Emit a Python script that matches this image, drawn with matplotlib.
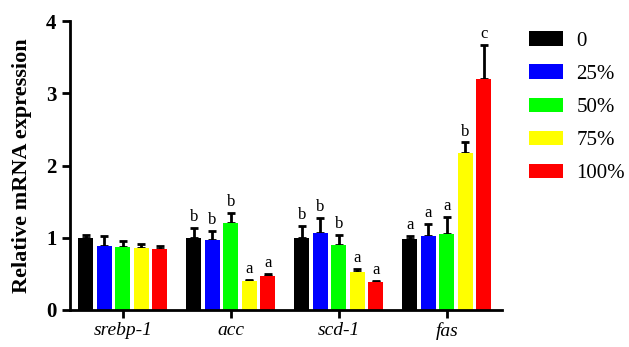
import numpy as np
import matplotlib.pyplot as plt

genes = ["srebp-1", "acc", "scd-1", "fas"]
groups = ["0", "25%", "50%", "75%", "100%"]
colors = ["#000000", "#0000ff", "#00ff00", "#ffff00", "#ff0000"]

# mean values per group (rows) for each gene (columns)
means = [
    [1.00, 1.00, 1.00, 0.98],
    [0.89, 0.97, 1.06, 1.03],
    [0.87, 1.20, 0.90, 1.05],
    [0.86, 0.40, 0.52, 2.17],
    [0.84, 0.47, 0.38, 3.20],
]
errs = [
    [0.04, 0.13, 0.16, 0.04],
    [0.13, 0.12, 0.21, 0.16],
    [0.08, 0.14, 0.14, 0.24],
    [0.05, 0.02, 0.05, 0.15],
    [0.05, 0.03, 0.02, 0.47],
]
letters = [
    ["", "b", "b", "a"],
    ["", "b", "b", "a"],
    ["", "b", "b", "a"],
    ["", "a", "a", "b"],
    ["", "a", "a", "c"],
]

plt.rcParams["font.family"] = ["Liberation Serif", "DejaVu Serif"]

fig = plt.figure(figsize=(6.29, 3.47), dpi=100)
ax = fig.add_axes([0.111, 0.107, 0.687, 0.832])

x = np.arange(len(genes))
slot = 0.171
width = 0.14

for i, g in enumerate(groups):
    pos = x + (i - 2) * slot
    ax.bar(pos, means[i], width, color=colors[i], label=g, zorder=2)
    ax.errorbar(
        pos, means[i], yerr=[np.zeros(len(genes)), errs[i]],
        fmt="none", ecolor="black", elinewidth=2, capsize=3, capthick=2, zorder=1,
    )
    for j in range(len(genes)):
        if letters[i][j]:
            ax.text(pos[j], means[i][j] + errs[i][j] + 0.04, letters[i][j],
                    ha="center", va="bottom", fontsize=12)

ax.set_xlim(-0.49, 3.51)
ax.set_ylim(0, 4)
ax.set_yticks([0, 1, 2, 3, 4])
ax.set_xticks(x)
ax.set_xticklabels(genes, fontsize=14, style="italic")
for lab in ax.get_yticklabels():
    lab.set_fontsize(15)
    lab.set_fontweight("bold")
ax.set_ylabel("Relative mRNA expression", fontsize=16, fontweight="bold", labelpad=10)

for s in ["top", "right"]:
    ax.spines[s].set_visible(False)
for s in ["left", "bottom"]:
    ax.spines[s].set_linewidth(2)
ax.tick_params(axis="both", width=2, length=6)
ax.tick_params(axis="x", pad=3)

ax.legend(loc="upper left", bbox_to_anchor=(1.02, 1.03), frameon=False,
          fontsize=15, handlelength=1.6, handleheight=0.7,
          labelspacing=0.65, handletextpad=0.65)

plt.savefig("out.png", dpi=100)
